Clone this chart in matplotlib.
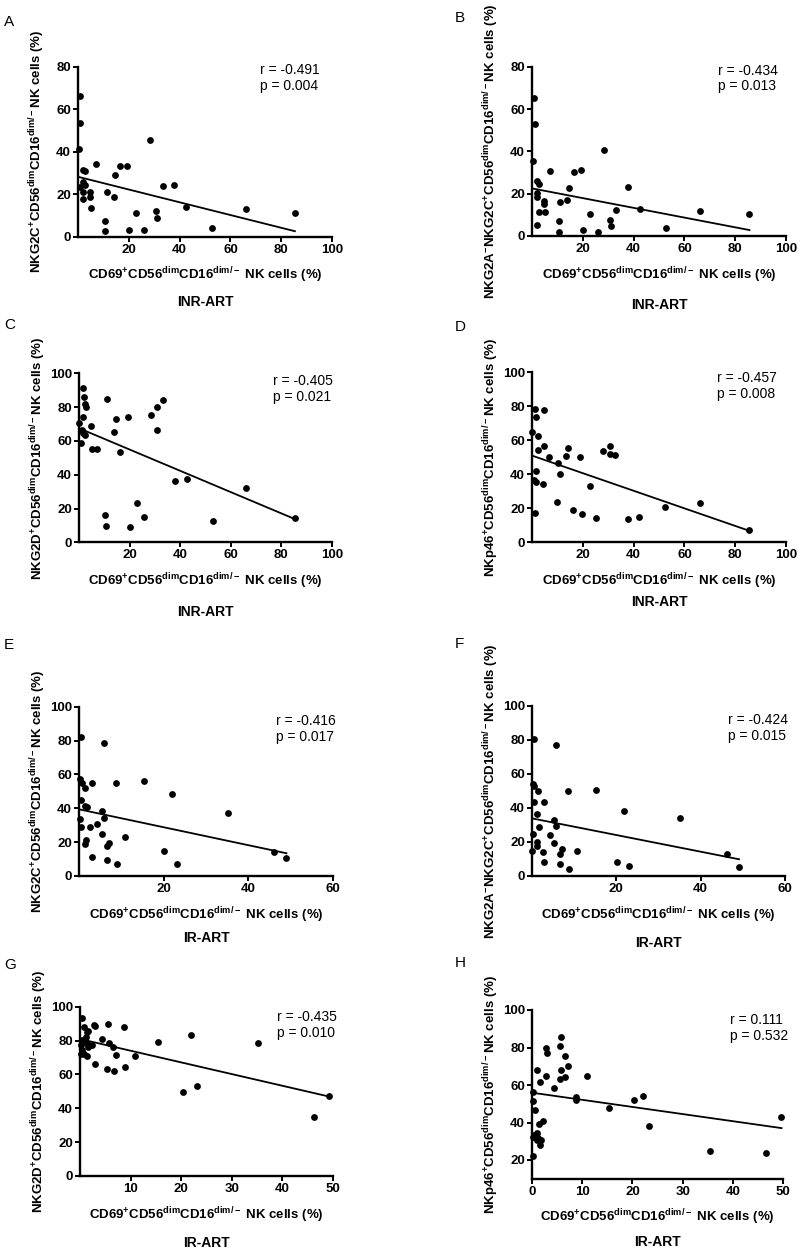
import numpy as np
import matplotlib
matplotlib.use("Agg")
import matplotlib.pyplot as plt

plt.rcParams['font.family'] = ['Liberation Sans', 'DejaVu Sans']
plt.rcParams['mathtext.fontset'] = 'custom'
plt.rcParams['mathtext.rm'] = 'Liberation Sans'
plt.rcParams['mathtext.bf'] = 'Liberation Sans:bold'
plt.rcParams['mathtext.default'] = 'bf'

# ---- data (x = CD69+ %, y = receptor+ %)
a_x = [0.7, 0.9, 0.4, 2.0, 2.8, 2.0, 2.9, 2.0, 2.0, 0.9, 4.9, 4.9, 5.1, 7.2, 10.5, 10.5, 11.4,
       14.0, 14.7, 16.4, 19.3, 20.2, 23.0, 25.9, 28.5, 30.8, 31.1, 33.3, 37.9, 42.5, 52.8, 66.3, 85.4]
a_y = [66.4, 53.3, 41.3, 31.4, 31.1, 25.9, 24.3, 21.2, 17.6, 23.5, 20.9, 18.8, 13.3, 34.2, 7.4, 2.7, 21.2,
       18.8, 29.0, 33.4, 33.4, 3.1, 11.3, 3.1, 45.5, 12.2, 8.9, 23.8, 24.2, 14.1, 4.2, 13.0, 11.0]

b_x = [0.9, 1.3, 0.4, 2.0, 2.6, 2.0, 2.0, 2.6, 2.0, 4.9, 4.9, 5.2, 7.2, 10.5, 10.5, 11.2, 13.8,
       14.4, 16.4, 19.4, 20.1, 23.0, 25.9, 28.5, 30.8, 31.1, 33.2, 37.9, 42.4, 52.8, 66.3, 85.6]
b_y = [65.4, 52.8, 35.4, 26.0, 24.4, 20.2, 18.3, 11.2, 5.2, 16.5, 15.1, 11.5, 30.7, 7.1, 1.7, 16.2, 17.0,
       22.5, 30.1, 31.2, 2.8, 10.4, 1.7, 40.6, 7.6, 4.9, 12.3, 23.3, 12.6, 3.9, 12.0, 10.4]

c_x = [0.1, 0.7, 1.7, 2.0, 2.4, 2.6, 1.7, 1.1, 1.7, 2.2, 4.6, 5.0, 7.0, 10.3, 10.5, 11.2, 13.8,
       14.5, 16.4, 19.2, 20.1, 22.8, 25.7, 28.3, 30.9, 30.9, 33.3, 37.8, 42.5, 53.0, 66.2, 85.4]
c_y = [70.4, 59.0, 91.1, 85.8, 81.7, 80.3, 74.4, 66.5, 64.5, 63.2, 68.8, 55.2, 55.2, 16.2, 9.9, 84.6, 65.5,
       73.0, 53.3, 74.4, 8.9, 23.1, 15.2, 75.3, 80.3, 66.5, 84.2, 36.3, 37.5, 12.8, 32.0, 14.2]

d_x = [0.1, 1.3, 1.7, 2.2, 2.2, 0.7, 1.7, 1.7, 1.0, 4.9, 4.9, 4.3, 6.8, 10.1, 9.8, 10.9, 13.5,
       14.2, 16.1, 19.0, 19.7, 22.7, 25.3, 28.0, 30.6, 30.6, 32.8, 37.7, 42.1, 52.5, 66.0, 85.3]
d_y = [65.1, 78.6, 73.5, 62.7, 54.3, 36.7, 42.0, 35.7, 17.1, 77.8, 56.9, 34.3, 50.0, 46.5, 23.5, 40.0, 51.0,
       55.3, 19.0, 50.4, 16.5, 33.3, 14.5, 53.7, 56.9, 51.8, 51.4, 13.7, 15.1, 21.0, 22.9, 7.3]

e_x = [0.5, 0.2, 0.6, 0.5, 0.2, 0.5, 1.4, 1.4, 1.8, 1.7, 1.4, 3.0, 2.6, 3.0, 4.3, 5.5, 5.9,
       5.5, 5.9, 6.5, 7.1, 6.7, 8.7, 8.9, 10.8, 15.3, 20.1, 22.0, 23.2, 35.2, 46.1, 49.0]
e_y = [81.9, 57.1, 54.7, 44.9, 33.7, 28.7, 52.2, 41.3, 40.6, 21.3, 18.9, 54.7, 29.1, 11.4, 30.7, 38.6, 34.1,
       24.8, 78.3, 17.9, 19.7, 9.4, 54.7, 7.1, 23.2, 56.1, 14.8, 48.2, 6.9, 37.4, 14.4, 10.8]

f_x = [0.4, 0.2, 0.4, 0.4, 0.2, 0.1, 1.2, 1.5, 1.6, 1.3, 1.3, 2.8, 2.6, 2.8, 4.2, 5.3, 5.7,
       5.3, 5.7, 6.6, 7.1, 6.6, 8.5, 8.8, 10.7, 15.2, 20.1, 21.9, 23.0, 35.1, 46.2, 49.1]
f_y = [80.4, 54.1, 52.9, 43.3, 24.7, 14.9, 36.5, 50.2, 28.6, 20.2, 17.8, 43.7, 14.3, 8.4, 24.1, 32.9, 29.4,
       19.2, 77.1, 12.9, 15.9, 7.1, 50.0, 3.9, 14.9, 50.6, 8.4, 38.2, 5.9, 33.9, 12.7, 5.1]

g_x = [0.3, 0.7, 1.4, 0.3, 0.2, 0.3, 0.2, 0.8, 1.0, 1.2, 1.6, 1.4, 1.6, 1.4, 2.3, 2.8, 3.0, 3.0,
       4.3, 5.6, 5.8, 5.4, 6.6, 6.7, 7.2, 8.7, 8.9, 10.9, 15.4, 20.3, 22.0, 23.2, 35.2, 46.2, 49.2]
g_y = [93.5, 87.8, 84.8, 80.3, 77.4, 74.4, 72.0, 72.0, 80.3, 82.3, 85.6, 78.3, 76.4, 71.1, 77.4, 89.4, 88.6, 66.1,
       80.7, 89.8, 78.3, 63.4, 76.4, 62.2, 71.5, 87.8, 64.2, 71.1, 78.9, 49.8, 83.3, 53.1, 78.3, 34.6, 47.4]

h_x = [0.1, 0.1, 0.2, 0.5, 0.3, 0.1, 0.7, 1.0, 1.2, 1.7, 1.5, 1.0, 1.3, 2.1, 1.0, 1.5, 2.7, 2.8, 2.9,
       4.3, 5.5, 5.8, 5.8, 5.5, 6.6, 7.2, 6.6, 8.8, 8.8, 11.0, 15.4, 20.4, 22.2, 23.4, 35.5, 46.7, 49.7]
h_y = [22.1, 51.6, 56.2, 46.7, 33.3, 32.1, 32.4, 34.2, 31.6, 30.7, 28.0, 68.0, 39.2, 40.8, 30.9, 61.8, 64.8, 79.6, 76.9,
       58.2, 80.8, 85.8, 68.0, 63.0, 75.5, 70.1, 64.1, 53.5, 52.1, 64.8, 47.9, 52.0, 54.3, 38.3, 24.8, 23.9, 43.1]

# regression line (intercept, slope) as drawn in the figure
fits = {'A': (28.2, -0.30), 'B': (22.5, -0.23), 'C': (67.5, -0.63), 'D': (51.0, -0.517),
        'E': (39.4, -0.53), 'F': (33.9, -0.49), 'G': (80.9, -0.69), 'H': (55.9, -0.38)}
stats = {'A': ('-0.491', '0.004'), 'B': ('-0.434', '0.013'), 'C': ('-0.405', '0.021'),
         'D': ('-0.457', '0.008'), 'E': ('-0.416', '0.017'), 'F': ('-0.424', '0.015'),
         'G': ('-0.435', '0.010'), 'H': ('0.111', '0.532')}

xlab = r'CD69$^{+}$CD56$^{dim}$CD16$^{dim/-}$ NK cells (%)'
yl_c = r'NKG2C$^{+}$CD56$^{dim}$CD16$^{dim/-}$NK cells (%)'
yl_ac = r'NKG2A$^{-}$NKG2C$^{+}$CD56$^{dim}$CD16$^{dim/-}$NK cells (%)'
yl_d = r'NKG2D$^{+}$CD56$^{dim}$CD16$^{dim/-}$NK cells (%)'
yl_p = r'NKp46$^{+}$CD56$^{dim}$CD16$^{dim/-}$NK cells (%)'

W, H = 800, 1251
fig = plt.figure(figsize=(W / 100, H / 100), dpi=100)


def box(l, t, r, b):
    return [l / W, 1 - b / H, (r - l) / W, (b - t) / H]


def panel(key, rect, xs, ys, ylab, xlim, xticks, ylim, yticks, tx, ty, group, gy, letter_xy):
    ax = fig.add_axes(box(*rect))
    ax.scatter(xs, ys, s=24, color='black', zorder=3, clip_on=False, linewidths=0)
    b0, b1 = fits[key]
    lx = np.array([0, max(xs)])
    ax.plot(lx, b0 + b1 * lx, color='black', lw=1.3, zorder=2)
    ax.set_xlim(*xlim)
    ax.set_ylim(*ylim)
    ax.set_xticks(xticks)
    ax.set_yticks(yticks)
    for s in ['top', 'right']:
        ax.spines[s].set_visible(False)
    for s in ['left', 'bottom']:
        ax.spines[s].set_linewidth(1.7)
    ax.tick_params(direction='out', length=3.5, width=1.4, labelsize=9.5, pad=1.5)
    for lab in ax.get_xticklabels() + ax.get_yticklabels():
        lab.set_fontweight('bold')
    ax.set_xlabel(xlab, fontsize=9.5, fontweight='bold')
    ax.set_ylabel(ylab, fontsize=9.5, fontweight='bold')
    hpx = rect[3] - rect[1]
    wpx = rect[2] - rect[0]
    ax.xaxis.set_label_coords(0.5, -29 / hpx)
    ax.yaxis.set_label_coords(-31 / wpx, 0.5)
    r, p = stats[key]
    ax.text(tx, ty, 'r = %s\np = %s' % (r, p), transform=ax.transAxes,
            ha='left', va='center', fontsize=10, linespacing=1.15)
    cx = (rect[0] + rect[2]) / 2
    fig.text(cx / W, 1 - gy / H, group, ha='center', va='center',
             fontsize=10, fontweight='bold')
    fig.text(letter_xy[0] / W, 1 - letter_xy[1] / H, key, ha='left', va='center', fontsize=11)
    return ax


panel('A', (78, 66.7, 332, 236.7), a_x, a_y, yl_c, (0, 100), [20, 40, 60, 80, 100],
      (0, 80), [0, 20, 40, 60, 80], 0.717, 0.934, 'INR-ART', 302, (4, 22))
panel('B', (532, 66.7, 786, 236), b_x, b_y, yl_ac, (0, 100), [20, 40, 60, 80, 100],
      (0, 80), [0, 20, 40, 60, 80], 0.732, 0.93, 'INR-ART', 305, (455, 18))
panel('C', (79, 373.3, 332, 542.3), c_x, c_y, yl_d, (0, 100), [20, 40, 60, 80, 100],
      (0, 100), [0, 20, 40, 60, 80, 100], 0.767, 0.907, 'INR-ART', 612, (4, 325))
panel('D', (532, 372.3, 786, 542.3), d_x, d_y, yl_p, (0, 100), [20, 40, 60, 80, 100],
      (0, 100), [0, 20, 40, 60, 80, 100], 0.727, 0.921, 'INR-ART', 602, (455, 327))
panel('E', (79, 706.7, 333, 876), e_x, e_y, yl_c, (0, 60), [20, 40, 60],
      (0, 100), [0, 20, 40, 60, 80, 100], 0.776, 0.87, 'IR-ART', 938, (4, 645))
panel('F', (532, 706, 785, 876), f_x, f_y, yl_ac, (0, 60), [20, 40, 60],
      (0, 100), [0, 20, 40, 60, 80, 100], 0.773, 0.869, 'IR-ART', 943, (455, 644))
panel('G', (80, 1006.7, 333, 1176), g_x, g_y, yl_d, (0, 50), [10, 20, 30, 40, 50],
      (0, 100), [0, 20, 40, 60, 80, 100], 0.778, 0.89, 'IR-ART', 1243, (4, 965))
panel('H', (532, 1010, 783, 1178.75), h_x, h_y, yl_p, (0, 50), [0, 10, 20, 30, 40, 50],
      (10, 100), [20, 40, 60, 80, 100], 0.79, 0.892, 'IR-ART', 1242, (455, 963))

fig.savefig('out.png', dpi=100)
